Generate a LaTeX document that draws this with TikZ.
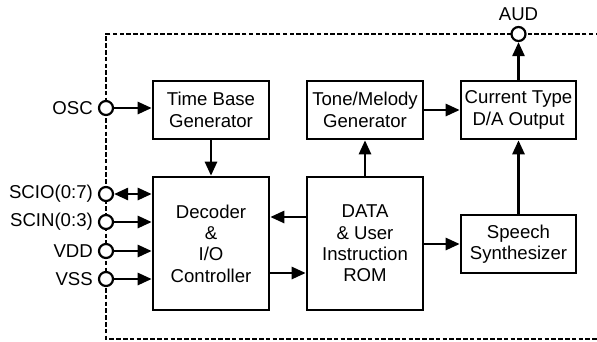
\documentclass[tikz,border=0pt]{standalone}
\usepackage{fontspec}
\setmainfont{Liberation Sans}
\usetikzlibrary{arrows.meta}

\tikzset{
    block/.style={draw, line width=2.6pt, align=center, inner sep=0pt},
    pinc/.style={draw, circle, fill=white, line width=2.2pt, minimum size=14pt, inner sep=0pt},
    pintext/.style={anchor=east, inner sep=0pt},
    conn/.style={line width=2.6pt, -{Triangle[length=14pt,width=12pt]}},
    border/.style={line width=2.2pt, dash pattern=on 4.5pt off 2.3pt}
}

\begin{document}
\begin{tikzpicture}[x=1pt, y=-1pt, font=\fontsize{18.6}{21.4}\selectfont]
    \useasboundingbox (0,0) rectangle (597,341);
    \coordinate (TopRight) at (600,34);
    \coordinate (TopLeft)  at (106,34);
    \coordinate (BotLeft)  at (106,339);
    \coordinate (BotRight) at (600,339);
    \draw [border] (TopRight) -- (TopLeft) -- (BotLeft) -- (BotRight);% chip outline
    % blocks
    \node [block, minimum width=116pt, minimum height=58pt]  (TimeBase) at (211,110)   {Time Base\\Generator};
    \node [block, minimum width=116pt, minimum height=58pt]  (Tone)     at (365,110)   {Tone/Melody\\Generator};
    \node [block, minimum width=115pt, minimum height=58pt]  (DA)       at (518.5,110) {Current Type\\D/A Output};
    \node [block, minimum width=116pt, minimum height=133pt] (Decoder)  at (211,243.5) {Decoder\\\&\\I/O\\Controller};
    \node [block, minimum width=116pt, minimum height=133pt] (ROM)      at (365,243.5) {DATA\\\& User\\Instruction\\ROM};
    \node [block, minimum width=115pt, minimum height=58pt]  (Speech)   at (518.5,244) {Speech\\Synthesizer};
    % pins
    \node [pinc] (OSC) at (106,108) {};
    \node [pintext] (OSCtext) at (93,108) {OSC};
    \foreach \pin/\txt/\y in {SCIO/SCIO(0:7)/194, SCIN/SCIN(0:3)/222, VDD/VDD/251, VSS/VSS/279}{% left side pins
        \node [pinc] (\pin) at (106,\y) {};
        \node [pintext] (\pin text) at (93,\y) {\txt};
    }
    \node [pinc] (AUD) at (518.5,34) {};
    \node [inner sep=0pt] (AUDtext) at (518.5,14) {AUD};
    % connections
    \draw [conn] (OSC) -- (OSC -| TimeBase.west);
    \draw [conn, {Triangle[length=14pt,width=12pt]}-{Triangle[length=14pt,width=12pt]}] (SCIO) -- (SCIO -| Decoder.west);
    \foreach \pin in {SCIN,VDD,VSS}{%
        \draw [conn] (\pin) -- (\pin -| Decoder.west);
    }
    \draw [conn] (TimeBase) -- (Decoder);
    \draw [conn] (ROM.west |- 0,217) -- (Decoder.east |- 0,217);
    \draw [conn] (Decoder.east |- 0,273) -- (ROM.west |- 0,273);
    \draw [conn] (ROM.east |- Speech) -- (Speech);
    \draw [conn] (ROM) -- (Tone);
    \draw [conn] (Tone) -- (DA);
    \draw [conn] (Speech) -- (DA);
    \draw [conn] (DA) -- (AUD);
\end{tikzpicture}
\end{document}
